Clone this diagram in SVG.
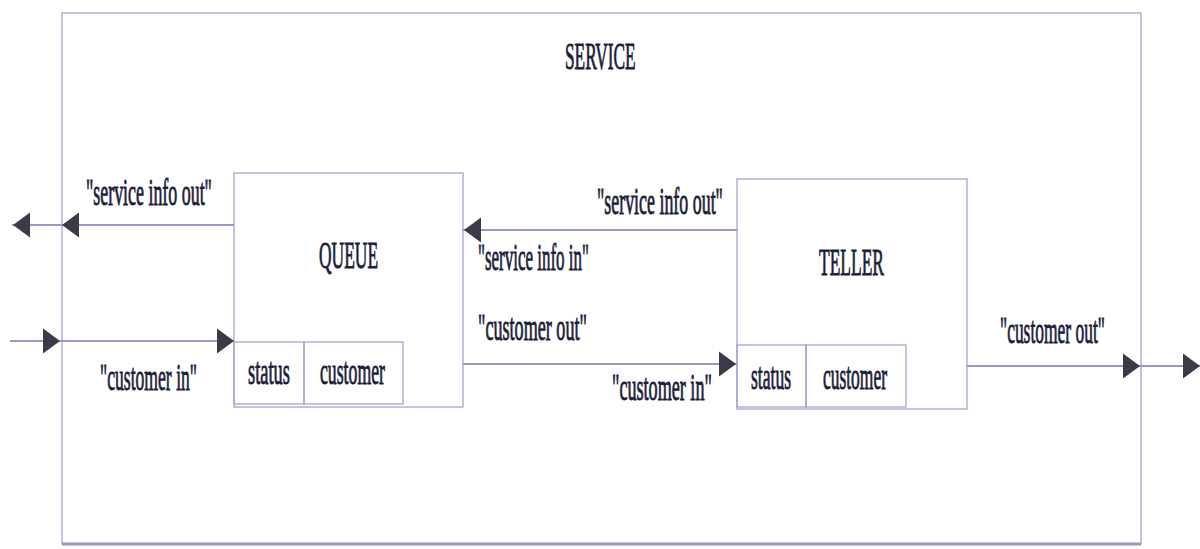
<svg xmlns="http://www.w3.org/2000/svg" width="1200" height="549" viewBox="0 0 1200 549">
  <style>
    .frame { fill: none; stroke: #a2a5d0; stroke-width: 1.3; }
    .wire { fill: none; stroke: #9599c6; stroke-width: 1.8; }
    .head { fill: #3b3b48; }
    .lbl { font-family: "Liberation Serif", "Times New Roman", serif; font-size: 37px; fill: #1c1d3a; stroke: #1c1d3a; stroke-width: 0.9; }
  </style>
  <defs>
    <!-- triangular arrowheads, tip at origin -->
    <path id="headR" class="head" d="M0,0 L-17,-12.5 L-17,12.5 Z"/>
    <path id="headL" class="head" d="M0,0 L17,-12.5 L17,12.5 Z"/>
  </defs>

  <rect width="1200" height="549" fill="#ffffff"/>

  <!-- enclosing SERVICE model -->
  <g id="service">
    <rect class="frame" x="62" y="13" width="1079" height="531"/>
    <line x1="62" y1="544" x2="1141" y2="544" stroke="#9599c6" stroke-width="3"/>
    <text class="lbl" transform="translate(565,69) scale(0.467,1)">SERVICE</text>
  </g>

  <!-- QUEUE atomic model -->
  <g id="queue">
    <rect class="frame" x="234" y="173" width="229" height="234"/>
    <rect class="frame" x="234" y="342" width="70" height="62"/>
    <rect class="frame" x="304" y="342" width="99" height="62"/>
    <text class="lbl" transform="translate(319,268) scale(0.471,1)">QUEUE</text>
    <text class="lbl" transform="translate(248,384) scale(0.498,1)">status</text>
    <text class="lbl" transform="translate(320,384) scale(0.479,1)">customer</text>
  </g>

  <!-- TELLER atomic model -->
  <g id="teller">
    <rect class="frame" x="737" y="179" width="230" height="230"/>
    <rect class="frame" x="737" y="345" width="69" height="62"/>
    <rect class="frame" x="806" y="345" width="100" height="62"/>
    <text class="lbl" transform="translate(819,275) scale(0.472,1)">TELLER</text>
    <text class="lbl" transform="translate(751,389) scale(0.475,1)">status</text>
    <text class="lbl" transform="translate(823,389) scale(0.472,1)">customer</text>
  </g>

  <!-- couplings between ports -->
  <g id="connectors">
    <!-- queue service info out to SERVICE output -->
    <line class="wire" x1="12" y1="225" x2="234" y2="225"/>
    <use href="#headL" x="13" y="225"/>
    <use href="#headL" x="62" y="225"/>
    <!-- SERVICE customer in to queue -->
    <line class="wire" x1="10" y1="341" x2="234" y2="341"/>
    <use href="#headR" x="60" y="341"/>
    <use href="#headR" x="234" y="341"/>
    <!-- teller service info out to queue service info in -->
    <line class="wire" x1="463" y1="230" x2="737" y2="230"/>
    <use href="#headL" x="464" y="230"/>
    <!-- queue customer out to teller customer in -->
    <line class="wire" x1="463" y1="364" x2="737" y2="364"/>
    <use href="#headR" x="736" y="364"/>
    <!-- teller customer out to SERVICE output -->
    <line class="wire" x1="967" y1="366" x2="1200" y2="366"/>
    <use href="#headR" x="1140" y="366"/>
    <use href="#headR" x="1200" y="366"/>
  </g>

  <!-- port labels -->
  <g id="labels">
    <text class="lbl" transform="translate(86,205) scale(0.484,1)">"service info out"</text>
    <text class="lbl" transform="translate(100,390) scale(0.476,1)">"customer in"</text>
    <text class="lbl" transform="translate(597,214) scale(0.484,1)">"service info out"</text>
    <text class="lbl" transform="translate(478,270) scale(0.459,1)">"service info in"</text>
    <text class="lbl" transform="translate(478,340) scale(0.49,1)">"customer out"</text>
    <text class="lbl" transform="translate(612,400) scale(0.49,1)">"customer in"</text>
    <text class="lbl" transform="translate(1000,343) scale(0.472,1)">"customer out"</text>
  </g>
</svg>
